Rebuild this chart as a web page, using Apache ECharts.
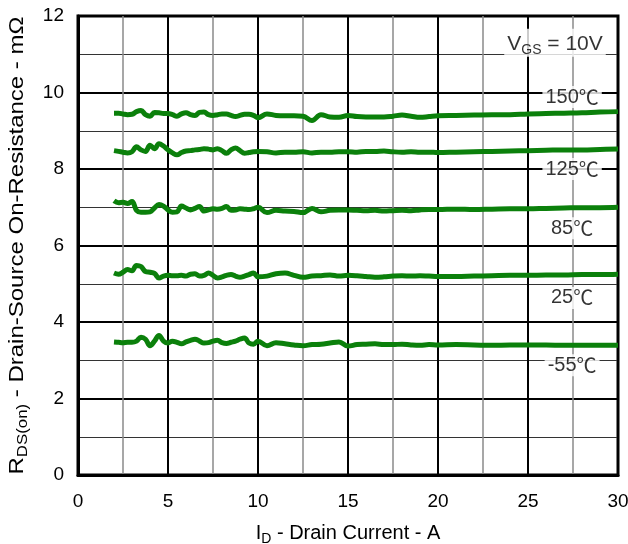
<!DOCTYPE html>
<html>
<head>
<meta charset="utf-8">
<script src="https://cdn.jsdelivr.net/npm/echarts@6/dist/echarts.min.js"></script>
<style>html,body{margin:0;padding:0;background:#fff;}#c{width:628px;height:544px;}</style>
</head>
<body>
<div id="c"></div>
<script>
var current = [2,2.25,2.5,2.75,3,3.25,3.5,3.75,4,4.25,4.5,4.75,5,5.25,5.5,5.75,6,6.25,6.5,6.75,7,7.25,7.5,7.75,8,8.25,8.5,8.75,9,9.25,9.5,9.75,10,
  10.5,11,11.5,12,12.5,13,13.5,14,14.5,15,15.5,16,16.5,17,17.5,18,18.5,19,19.5,20,
  21,22,23,24,25,26,27,28,29,30];
var r150 = [9.46,9.46,9.44,9.42,9.43,9.50,9.53,9.42,9.38,9.48,9.47,9.45,9.45,9.42,9.38,9.44,9.47,9.42,9.40,9.48,9.49,9.42,9.40,9.42,9.44,9.44,9.40,9.37,9.40,9.43,9.43,9.40,9.34,
  9.44,9.40,9.39,9.39,9.38,9.27,9.42,9.36,9.35,9.40,9.37,9.36,9.36,9.36,9.38,9.41,9.38,9.35,9.37,9.39,
  9.40,9.41,9.42,9.42,9.44,9.45,9.46,9.47,9.49,9.50];
var r125 = [8.48,8.46,8.44,8.42,8.45,8.58,8.50,8.46,8.62,8.53,8.66,8.60,8.50,8.42,8.37,8.43,8.47,8.48,8.50,8.51,8.53,8.52,8.50,8.53,8.48,8.41,8.50,8.55,8.48,8.41,8.43,8.45,8.46,
  8.45,8.42,8.44,8.44,8.45,8.42,8.44,8.44,8.45,8.45,8.44,8.46,8.46,8.47,8.45,8.44,8.45,8.44,8.44,8.43,
  8.44,8.45,8.46,8.47,8.48,8.49,8.50,8.50,8.51,8.52];
var r85 = [7.17,7.12,7.13,7.10,7.15,6.92,6.87,6.87,6.88,6.98,7.07,7.03,6.93,6.87,6.88,7.03,6.98,6.93,6.97,7.02,6.90,6.93,6.96,6.95,6.97,7.02,6.92,6.93,6.96,6.95,6.94,6.96,7.00,
  6.86,6.92,6.90,6.89,6.86,6.97,6.88,6.92,6.93,6.93,6.92,6.91,6.92,6.90,6.91,6.92,6.91,6.93,6.94,6.94,
  6.95,6.94,6.95,6.96,6.96,6.97,6.98,6.99,6.99,7.00];
var r25 = [5.28,5.25,5.30,5.37,5.34,5.48,5.45,5.32,5.30,5.27,5.15,5.20,5.22,5.21,5.21,5.22,5.20,5.25,5.26,5.20,5.22,5.28,5.22,5.15,5.18,5.22,5.24,5.20,5.17,5.20,5.24,5.28,5.18,
  5.20,5.26,5.28,5.22,5.17,5.20,5.21,5.23,5.20,5.22,5.21,5.19,5.17,5.18,5.20,5.21,5.20,5.21,5.20,5.19,
  5.19,5.20,5.21,5.22,5.22,5.23,5.23,5.24,5.24,5.25];
var rm55 = [3.48,3.47,3.46,3.47,3.47,3.50,3.60,3.55,3.38,3.50,3.65,3.50,3.45,3.50,3.47,3.43,3.48,3.52,3.55,3.50,3.45,3.46,3.50,3.52,3.46,3.44,3.47,3.50,3.55,3.58,3.45,3.42,3.50,
  3.38,3.46,3.43,3.40,3.38,3.41,3.42,3.45,3.48,3.37,3.41,3.42,3.43,3.41,3.41,3.42,3.40,3.39,3.41,3.40,
  3.41,3.40,3.39,3.40,3.40,3.40,3.39,3.39,3.39,3.39];
var tempLabels = ['150', '125', '85', '25', '-55'];
var seriesValues = [r150, r125, r85, r25, rm55];
var labelPos = [[27.45, 9.88], [27.45, 8.0], [27.45, 6.45], [27.45, 4.63], [27.45, 2.87]];
var vgsPos = [26.5, 11.3];
var xTicks = [0, 5, 10, 15, 20, 25, 30];
var yTicks = [0, 2, 4, 6, 8, 10, 12];

var FONT = '"Liberation Sans", Arial, sans-serif';
var CJK = '"Noto Sans CJK SC", "Liberation Sans", sans-serif';
var series = seriesValues.map(function (vals, i) {
  return {
    type: 'line', name: tempLabels[i] + '\u2103', smooth: 0.4, showSymbol: false, symbol: 'none',
    lineStyle: { color: '#0b800b', width: 5 },
    data: current.map(function (x, j) { return [x, vals[j]]; }),
    z: 3
  };
});
series.push({
  type: 'scatter', symbolSize: 0, z: 5,
  data: labelPos.map(function (p, i) { return { value: p, name: tempLabels[i] }; }),
  label: {
    show: true, position: 'inside', color: '#000',
    backgroundColor: '#fff', padding: [0, 3, 0, 3],
    formatter: function (p) { return '{a|' + p.name + '}{c|\u2103}'; },
    rich: {
      a: { fontSize: 20, fontFamily: FONT, color: '#000', lineHeight: 22 },
      c: { fontSize: 20, fontFamily: CJK, color: '#000', lineHeight: 22 }
    }
  }
});
series.push({
  type: 'scatter', symbolSize: 0, z: 5,
  data: [{ value: vgsPos, name: 'VGS' }],
  label: {
    show: true, position: 'inside', color: '#000',
    backgroundColor: '#fff', padding: [2, 3, 0, 3],
    formatter: '{a|V}{s|GS}{a| = 10V}',
    rich: {
      a: { fontSize: 21, fontFamily: FONT, color: '#000' },
      s: { fontSize: 14, fontFamily: FONT, color: '#000', padding: [12, 0, 0, 0] }
    }
  }
});

var chart = echarts.init(document.getElementById('c'), null, { renderer: 'canvas' });
chart.setOption({
  animation: false,
  backgroundColor: '#fff',
  grid: { left: 78, right: 10, top: 16, bottom: 69, show: true, borderColor: '#000', borderWidth: 3,
    backgroundColor: 'transparent', containLabel: false, outerBoundsMode: 'none' },
  graphic: [{
    type: 'text', x: 17, y: 245.5, rotation: Math.PI / 2, scaleX: 1.2, z: 10,
    style: {
      text: '{a|R}{s|DS(on)}{a| - Drain-Source On-Resistance - m\u03A9}',
      align: 'center', verticalAlign: 'middle',
      rich: {
        a: { fontSize: 20, fontFamily: FONT, fill: '#000' },
        s: { fontSize: 14, fontFamily: FONT, fill: '#000', padding: [12, 0, 0, 0] }
      }
    }
  }],
  xAxis: {
    type: 'value', min: 0, max: 30, interval: 5,
    name: '{a|I}{s|D}{a| - Drain Current - A}', nameLocation: 'middle', nameGap: 45,
    nameTextStyle: { rich: {
      a: { fontSize: 20, fontFamily: FONT, color: '#000' },
      s: { fontSize: 14, fontFamily: FONT, color: '#000', padding: [12, 0, 0, 0] }
    } },
    axisLine: { show: true, lineStyle: { color: '#000', width: 3 } },
    axisTick: { show: false },
    axisLabel: { fontSize: 19, fontFamily: FONT, color: '#000', margin: 17,
      formatter: function (v) { return xTicks.indexOf(v) >= 0 ? String(v) : ''; } },
    splitLine: { show: true, lineStyle: { color: '#000', width: 2 } },
    minorTick: { show: false, splitNumber: 2 },
    minorSplitLine: { show: true, lineStyle: { color: '#8a8a8a', width: 1.5 } }
  },
  yAxis: {
    type: 'value', min: 0, max: 12, interval: 2,
    axisLine: { show: true, lineStyle: { color: '#000', width: 3 } },
    axisTick: { show: false },
    axisLabel: { fontSize: 19, fontFamily: FONT, color: '#000', margin: 14,
      formatter: function (v) { return yTicks.indexOf(v) >= 0 ? String(v) : ''; } },
    splitLine: { show: true, lineStyle: { color: '#000', width: 2 } },
    minorTick: { show: false, splitNumber: 2 },
    minorSplitLine: { show: true, lineStyle: { color: '#333', width: 1.2 } }
  },
  series: series
});
</script>
</body>
</html>
